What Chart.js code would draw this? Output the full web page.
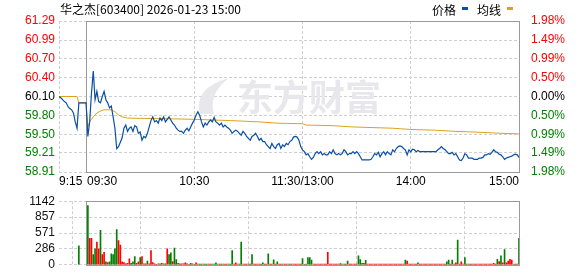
<!DOCTYPE html>
<html>
<head>
<meta charset="utf-8">
<script src="https://cdn.jsdelivr.net/npm/chart.js@4.4.1/dist/chart.umd.min.js"></script>
<style>
  html, body { margin: 0; padding: 0; background: #fff; }
  #wrap { position: relative; width: 578px; height: 276px; }
  #priceChart { position: absolute; left: 0; top: 0; }
  #volChart { position: absolute; left: 0; top: 190px; }
</style>
</head>
<body>
<div id="wrap">
  <canvas id="priceChart" width="578" height="190"></canvas>
  <canvas id="volChart" width="578" height="86"></canvas>
</div>
<script>
// Intraday chart data (minutes from 09:30, lunch break removed)
const stockTitle = "华之杰[603400] 2026-01-23 15:00";
const prevClose = 60.10;
const priceTicks = [58.91, 59.21, 59.50, 59.80, 60.10, 60.40, 60.70, 60.99, 61.29];
const pctLabels = ["1.98%", "1.49%", "0.99%", "0.50%", "0.00%", "0.50%", "0.99%", "1.49%", "1.98%"];
const timeTicks = [-15, 0, 60, 120, 180, 240];
const timeLabels = ["9:15", "09:30", "10:30", "11:30/13:00", "14:00", "15:00"];
const volTicks = [0, 286, 571, 857, 1142];

// call auction 9:15 - 9:25
const preTimes = [-15, -14, -13, -12, -11, -10, -9, -8, -7, -6, -5, -4];
const prePrices = [60.10, 60.08, 60.05, 60.02, 60.00, 59.94, 59.91, 59.89, 59.84, 59.70, 59.60, 60.00];
const preVolTime = -4;
const preVolume = 340;

// one price per minute, 09:30 .. 15:00
const sessionPrices = [
  60.00, 59.47, 59.70, 60.15, 60.50, 60.05, 60.18, 60.02, 60.00, 60.10,
  60.18, 60.05, 60.00, 59.92, 59.95, 59.78, 59.60, 59.28, 59.31, 59.38,
  59.45, 59.60, 59.65, 59.55, 59.60, 59.62, 59.55, 59.64, 59.62, 59.52,
  59.54, 59.41, 59.47, 59.45, 59.52, 59.62, 59.72, 59.78, 59.70, 59.72,
  59.68, 59.76, 59.72, 59.78, 59.70, 59.74, 59.78, 59.73, 59.68, 59.65,
  59.60, 59.57, 59.55, 59.55, 59.52, 59.57, 59.60, 59.56, 59.62, 59.68,
  59.73, 59.81, 59.86, 59.80, 59.70, 59.62, 59.68, 59.65, 59.70, 59.73,
  59.70, 59.77, 59.70, 59.68, 59.65, 59.68, 59.62, 59.65, 59.62, 59.60,
  59.57, 59.52, 59.55, 59.57, 59.55, 59.52, 59.49, 59.55, 59.52, 59.47,
  59.44, 59.41, 59.47, 59.49, 59.52, 59.47, 59.41, 59.44, 59.39, 59.39,
  59.34, 59.31, 59.28, 59.36, 59.31, 59.28, 59.34, 59.36, 59.28, 59.34,
  59.31, 59.36, 59.34, 59.39, 59.41, 59.46, 59.47, 59.46, 59.41, 59.31,
  59.26, 59.23, 59.18, 59.20, 59.15, 59.11, 59.14, 59.20, 59.23, 59.20,
  59.23, 59.18, 59.20, 59.18, 59.18, 59.23, 59.20, 59.26, 59.20, 59.18,
  59.20, 59.18, 59.20, 59.26, 59.23, 59.18, 59.20, 59.20, 59.23, 59.20,
  59.23, 59.20, 59.15, 59.10, 59.10, 59.10, 59.10, 59.10, 59.11, 59.15,
  59.20, 59.18, 59.22, 59.15, 59.20, 59.23, 59.18, 59.23, 59.20, 59.18,
  59.26, 59.23, 59.28, 59.31, 59.32, 59.31, 59.28, 59.26, 59.18, 59.26,
  59.23, 59.27, 59.26, 59.23, 59.25, 59.23, 59.23, 59.23, 59.23, 59.23,
  59.23, 59.23, 59.23, 59.23, 59.23, 59.26, 59.28, 59.31, 59.28, 59.26,
  59.23, 59.20, 59.20, 59.22, 59.18, 59.20, 59.15, 59.10, 59.09, 59.13,
  59.20, 59.18, 59.13, 59.13, 59.13, 59.11, 59.11, 59.11, 59.13, 59.13,
  59.14, 59.18, 59.18, 59.20, 59.19, 59.22, 59.26, 59.23, 59.22, 59.19,
  59.18, 59.15, 59.11, 59.13, 59.14, 59.15, 59.16, 59.18, 59.19, 59.18,
  59.14
];

// average price line
const avgTimes = [-15, -5, -4, 0, 1, 2, 4, 6, 8, 10, 14, 16, 18, 20, 23, 30, 45, 60, 70, 80,
  96, 106, 120, 122, 137, 148, 170, 180, 193, 205, 215, 230, 240];
const avgPrices = [60.10, 60.10, 60.00, 60.00, 59.62, 59.70, 59.78, 59.84, 59.87, 59.89,
  59.89, 59.86, 59.81, 59.78, 59.76, 59.755, 59.75, 59.74, 59.73, 59.72,
  59.70, 59.68, 59.67, 59.65, 59.64, 59.62, 59.60, 59.58, 59.57, 59.55,
  59.54, 59.52, 59.51];

// volume per minute 09:31 .. 15:00, and G(reen)/R(ed) per bar
const volumes = [
  1064, 477, 477, 183, 288, 409, 288, 618, 183, 225,
  52, 42, 52, 199, 183, 288, 634, 435, 356, 52,
  42, 16, 26, 105, 26, 52, 147, 26, 52, 131,
  147, 16, 16, 68, 16, 257, 42, 16, 10, 16,
  16, 26, 16, 16, 288, 183, 215, 58, 299, 94,
  26, 16, 16, 16, 37, 16, 10, 26, 16, 10,
  37, 15, 15, 15, 15, 15, 15, 15, 15, 15,
  15, 37, 15, 15, 15, 15, 15, 15, 15, 15,
  257, 15, 37, 15, 15, 409, 15, 15, 15, 15,
  15, 183, 15, 15, 15, 15, 15, 37, 15, 15,
  199, 15, 15, 89, 15, 52, 15, 15, 15, 15,
  15, 15, 15, 15, 15, 15, 15, 15, 15, 110,
  10, 15, 131, 131, 84, 15, 15, 15, 15, 15,
  15, 15, 15, 225, 15, 15, 15, 15, 15, 15,
  20, 15, 15, 15, 68, 15, 15, 15, 15, 15,
  162, 94, 26, 26, 79, 15, 15, 15, 15, 15,
  15, 15, 15, 15, 15, 15, 15, 15, 15, 15,
  15, 15, 15, 15, 15, 15, 84, 68, 15, 15,
  15, 15, 15, 37, 15, 15, 15, 15, 15, 15,
  15, 15, 15, 15, 15, 15, 15, 15, 15, 52,
  84, 15, 84, 15, 37, 445, 15, 52, 15, 131,
  15, 15, 15, 15, 15, 15, 15, 15, 15, 15,
  15, 15, 15, 15, 15, 26, 15, 100, 58, 162,
  37, 272, 37, 68, 100, 84, 10, 15, 15, 477
];
const volDirs = (
  "GRRGGRRGRR" + "GRGGGGGRRR" + "RRRRGGGRRG" + "RRRGRRRRRG" + "RGRGRGGRGG" +
  "RGRRRRRGRG" + "RRGGRGGRRG" + "GGGRRGRRGG" + "GRRRGGRRRG" + "RGRRRRGGRR" +
  "GRRGRGRRGR" + "RRGRRRRRRG" + "GRGGGRRRRR" + "RRRRRRRRRR" + "GRGRGRRRRR" +
  "GGGRGRRRRR" + "RRRRRRRRRR" + "RRRRRRGRRR" + "RRRGRRRRRR" + "RRRRRRRRRG" +
  "GRGRRGRRRG" + "RGRRRRRRRR" + "RRRRRRRGRG" + "RGRRRRGRRG"
).split("");

const blue = "#0a4fa3";
const gold = "#dca21c";
const upRed = "#ff0000";
const downGreen = "#008000";
const gridColor = "#cfcfcf";
const frameColor = "#9a9a9a";
const labelFont = { family: "Liberation Sans", size: 12 };

function sideColor(v) {
  if (Math.abs(v - prevClose) < 0.001) return "#000";
  return v > prevClose ? upRed : downGreen;
}

function timeScale() {
  return {
    type: "linear",
    min: timeTicks[0],
    max: timeTicks[timeTicks.length - 1],
    offset: false,
    afterBuildTicks: s => { s.ticks = timeTicks.map(v => ({ value: v })); },
    ticks: { display: false },
    grid: { color: gridColor, drawTicks: false },
    border: { display: false, dash: [3, 2] }
  };
}

// solid frame around the trading session (09:30 - 15:00)
const sessionFrame = {
  id: "sessionFrame",
  beforeDatasetsDraw(chart, args, opts) {
    const { ctx, chartArea: a, scales: { x } } = chart;
    const x0 = Math.round(x.getPixelForValue(0));
    const x1 = Math.round(x.getPixelForValue(240));
    ctx.save();
    if (opts.watermark) {
      ctx.fillStyle = "#e8e8ec";
      ctx.beginPath();
      ctx.moveTo(200, 114);
      ctx.quadraticCurveTo(193, 88, 229, 78);
      ctx.quadraticCurveTo(208, 94, 214, 114);
      ctx.closePath();
      ctx.fill();
      ctx.font = 'bold 36px "Noto Sans CJK SC"';
      ctx.textBaseline = "middle";
      ctx.fillText("东方财富", 237, 97);
    }
    ctx.strokeStyle = frameColor;
    ctx.lineWidth = 1;
    ctx.strokeRect(x0 + 0.5, Math.round(a.top) + 0.5, x1 - x0, Math.round(a.bottom - a.top));
    ctx.restore();
  }
};

// title, legend and time labels
const headerAndTimes = {
  id: "headerAndTimes",
  afterDraw(chart) {
    const { ctx, chartArea: a, scales: { x } } = chart;
    ctx.save();
    ctx.fillStyle = "#000";
    ctx.textBaseline = "middle";
    ctx.font = '12px "Noto Sans CJK SC"';
    ctx.fillText(stockTitle, 60, 9);

    let lx = 432;
    [["价格", blue], ["均线", gold]].forEach(([name, color]) => {
      ctx.fillStyle = "#000";
      ctx.fillText(name, lx, 10);
      lx += ctx.measureText(name).width + 6;
      ctx.fillStyle = color;
      ctx.fillRect(lx, 7, 6, 3);
      lx += 15;
    });

    ctx.font = '12px "Liberation Sans"';
    ctx.fillStyle = "#000";
    timeTicks.forEach((t, i) => {
      const px = x.getPixelForValue(t);
      ctx.textAlign = i === timeTicks.length - 1 ? "right" : (i < 2 ? "left" : "center");
      ctx.fillText(timeLabels[i], i === 1 ? px + 1 : px, a.bottom + 10);
    });
    ctx.restore();
  }
};

const pricePoints = preTimes.map((t, i) => ({ x: t, y: prePrices[i] }))
  .concat(sessionPrices.map((p, m) => ({ x: m, y: p })));
const avgPoints = avgTimes.map((t, i) => ({ x: t, y: avgPrices[i] }));

new Chart(document.getElementById("priceChart"), {
  type: "line",
  data: {
    datasets: [
      { label: "价格", data: pricePoints, borderColor: blue, borderWidth: 1.2, pointRadius: 0, tension: 0 },
      { label: "均线", data: avgPoints, borderColor: gold, borderWidth: 1, pointRadius: 0, tension: 0 }
    ]
  },
  options: {
    responsive: false,
    animation: false,
    layout: { padding: { top: 21, bottom: 18 } },
    plugins: { legend: { display: false }, tooltip: { enabled: false }, sessionFrame: { watermark: true } },
    scales: {
      x: timeScale(),
      y: {
        type: "linear",
        min: priceTicks[0],
        max: priceTicks[priceTicks.length - 1],
        afterBuildTicks: s => { s.ticks = priceTicks.map(v => ({ value: v })); },
        afterFit: s => { s.width = 59; },
        ticks: {
          font: labelFont,
          padding: 4,
          autoSkip: false,
          color: c => sideColor(c.tick.value),
          callback: v => v.toFixed(2)
        },
        grid: { color: gridColor, drawTicks: false },
        border: { display: false, dash: [3, 2] }
      },
      yPct: {
        type: "linear",
        position: "right",
        min: priceTicks[0],
        max: priceTicks[priceTicks.length - 1],
        afterBuildTicks: s => { s.ticks = priceTicks.map(v => ({ value: v })); },
        afterFit: s => { s.width = 59; },
        ticks: {
          font: labelFont,
          padding: 4,
          autoSkip: false,
          color: c => sideColor(c.tick.value),
          callback: (v, i) => pctLabels[i]
        },
        grid: { display: false },
        border: { display: false }
      }
    }
  },
  plugins: [sessionFrame, headerAndTimes]
});

const volPoints = [{ x: preVolTime, y: preVolume }]
  .concat(volumes.map((v, i) => ({ x: i + 1, y: v })));
const volColors = [downGreen].concat(volDirs.map(d => (d === "R" ? upRed : downGreen)));

new Chart(document.getElementById("volChart"), {
  type: "bar",
  data: {
    datasets: [{ label: "成交量", data: volPoints, backgroundColor: volColors, barThickness: 1, borderWidth: 0 }]
  },
  options: {
    responsive: false,
    animation: false,
    layout: { padding: { top: 6, bottom: 6, right: 59 } },
    plugins: { legend: { display: false }, tooltip: { enabled: false }, sessionFrame: { watermark: false } },
    scales: {
      x: timeScale(),
      y: {
        type: "linear",
        min: volTicks[0],
        max: volTicks[volTicks.length - 1],
        afterBuildTicks: s => { s.ticks = volTicks.map(v => ({ value: v })); },
        afterFit: s => { s.width = 59; },
        ticks: { font: labelFont, padding: 4, autoSkip: false, color: "#111", callback: v => String(v) },
        grid: { color: gridColor, drawTicks: false },
        border: { display: false, dash: [3, 2] }
      }
    }
  },
  plugins: [sessionFrame]
});
</script>
</body>
</html>
